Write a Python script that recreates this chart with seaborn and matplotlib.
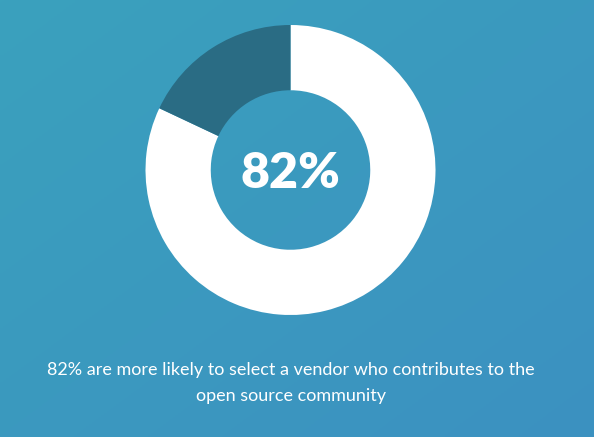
import numpy as np
import matplotlib.pyplot as plt
import seaborn as sns
from matplotlib.colors import LinearSegmentedColormap

segments = ['More likely', 'Other']
shares = [82, 18]
seg_colors = ['#ffffff', '#2a6c84']
caption = '82% are more likely to select a vendor who contributes to the\nopen source community'

sns.set_theme(style='white')
plt.rcParams['font.family'] = ['Lato', 'DejaVu Sans']

W, H = 594, 437
fig = plt.figure(figsize=(W / 100, H / 100), dpi=100)
ax = fig.add_axes([0, 0, 1, 1])

# diagonal gradient background
cmap = LinearSegmentedColormap.from_list('bg', ['#3aa1bd', '#3c91c1'])
yy, xx = np.mgrid[0:1:200j, 0:1:200j]
grad = (xx + yy) / 2
ax.imshow(grad, cmap=cmap, extent=[0, W, 0, H], origin='upper', aspect='auto', zorder=0)

cx, cy, r = 290.5, H - 170, 145
ax.pie(shares, colors=seg_colors, startangle=90, counterclock=False,
       center=(cx, cy), radius=r, frame=True,
       wedgeprops=dict(width=r * 0.45, linewidth=0))

ax.text(cx, cy - 3, f'{shares[0]}%', color='white', fontsize=36, fontweight='heavy',
        ha='center', va='center')
ax.text(W / 2 - 6, H - 383, caption, color='white', fontsize=13, ha='center', va='center',
        linespacing=1.75)

ax.set_xlim(0, W)
ax.set_ylim(0, H)
ax.set_aspect('equal')
ax.axis('off')

fig.savefig('out.png', dpi=100)
